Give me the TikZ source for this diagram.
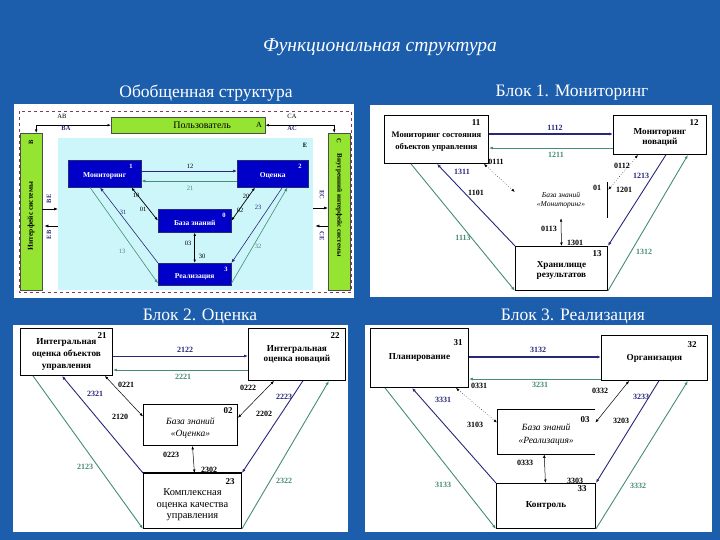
\documentclass[tikz,border=0pt]{standalone}
\usepackage{fontspec}
\setmainfont{Liberation Serif}
\usetikzlibrary{arrows.meta,calc}
\definecolor{bgblue}{RGB}{28,94,172}
\definecolor{navyc}{RGB}{40,40,120}
\definecolor{tealc}{RGB}{70,140,120}
\definecolor{limec}{RGB}{150,228,50}
\definecolor{cyanbg}{RGB}{205,246,250}
\definecolor{boxblue}{RGB}{0,0,200}
\definecolor{maroonc}{RGB}{130,60,90}
\tikzset{
  tip/.style={-{Latex[length=4pt,width=3pt]}},
  tips/.style={{Latex[length=3.5pt,width=2.6pt]}-{Latex[length=3.5pt,width=2.6pt]}},
  nv/.style={draw=navyc,line width=0.9pt,tip},
  tl/.style={draw=tealc,line width=0.9pt,tip},
  kbl/.style={draw=black,line width=0.5pt,tips},
  kbd/.style={draw=black,line width=0.5pt,dotted,tips},
  wbox/.style={draw=black,fill=white,line width=0.9pt,align=center,inner sep=0pt,
     font=\fontsize{9.2}{10.4}\selectfont\bfseries,anchor=north west},
  bbox/.style={draw=navyc,fill=boxblue,text=white,align=center,inner sep=0pt,
     font=\fontsize{7.5}{8.5}\selectfont\bfseries,anchor=north west},
  gbox/.style={draw=black!70,fill=limec,align=center,inner sep=0pt,
     font=\fontsize{10}{11}\selectfont,anchor=north west},
  num/.style={font=\fontsize{9}{10}\selectfont\bfseries,inner sep=0pt},
  wnum/.style={font=\fontsize{6.5}{7}\selectfont\bfseries,text=white,inner sep=0pt},
  lb/.style={font=\fontsize{8}{9}\selectfont\bfseries,inner sep=0.5pt},
  lbn/.style={lb,text=navyc},
  lbt/.style={lb,text=tealc},
  sl/.style={font=\fontsize{6.5}{7}\selectfont,inner sep=0.5pt},
  kbt/.style={align=center,font=\fontsize{7.5}{9}\selectfont\itshape,inner sep=0pt},
  subt/.style={text=white,font=\fontsize{17.5}{20}\selectfont}
}
\begin{document}
\begin{tikzpicture}[x=1pt,y=-1pt]
\useasboundingbox (0,0) rectangle (720,540);
\fill[bgblue] (0,0) rectangle (720,540);

\node[text=white,font=\fontsize{19.5}{22}\selectfont\itshape] (title) at (380,47) {Функциональная структура};
\node[subt] (s0) at (206,93) {Обобщенная структура};
\node[subt] (s1) at (572,93) {Блок 1. Мониторинг};
\node[subt] (s2) at (200,316) {Блок 2. Оценка};
\node[subt] (s3) at (573,316) {Блок 3. Реализация};

% ================= Panel 0: general structure
\fill[white] (14,104) rectangle (354,298);
\draw[maroonc,dashed,line width=0.7pt] (19,111) rectangle (351,292);
\node[fill=cyanbg,minimum width=255pt,minimum height=152pt,inner sep=0,anchor=north west] (E) at (58,138) {};
\node[sl] (Elab) at (305,145) {\bfseries E};
\node[gbox,minimum width=154pt,minimum height=16pt] (user) at (111,117) {\hspace*{28pt}Пользователь};
\node[sl,font=\fontsize{8}{9}\selectfont] (Alab) at (259,125) {A};
\node[gbox,minimum width=22pt,minimum height=157pt] (lbx) at (20,133) {};
\node[sl,rotate=90] (Blab) at (31,142) {\bfseries B};
\node[sl,rotate=90,font=\fontsize{7.5}{8}\selectfont\bfseries] (ltxt) at (31,216) {Интерфейс системы};
\node[gbox,minimum width=22pt,minimum height=157pt] (rbx) at (328,133) {};
\node[sl,rotate=-90] (Clab) at (339,141) {\bfseries C};
\node[sl,rotate=-90,font=\fontsize{7}{8}\selectfont\bfseries] (rtxt) at (339,205) {Внутренний интерфейс системы};

\draw[tips,line width=0.6pt] (user.west) -| ([xshift=5pt]lbx.north);
\draw[tips,line width=0.6pt] (user.east) -| ([xshift=-5pt]rbx.north);
\node[sl] (ab) at (62,116) {AB};
\node[sl,text=navyc] (ba) at (66,128) {\bfseries BA};
\node[sl] (ca) at (292,116) {CA};
\node[sl,text=navyc] (ac) at (292,128) {\bfseries AC};

\draw[tip,line width=0.6pt] (lbx.east |- 0,209) -- (E.west |- 0,209);
\draw[tip,line width=0.6pt] (E.west |- 0,226) -- ([xshift=2pt]lbx.east |- 0,226);
\node[sl,rotate=90,text=navyc] (be) at (49,199) {\bfseries BE};
\node[sl,rotate=90,text=navyc] (eb) at (49,235) {\bfseries EB};
\draw[tip,line width=0.6pt] (E.east |- 0,208) -- (rbx.west |- 0,208);
\draw[tip,line width=0.6pt] (rbx.west |- 0,226) -- ([xshift=2pt]E.east |- 0,226);
\node[sl,rotate=-90,text=navyc] (ec) at (322,195) {\bfseries EC};
\node[sl,rotate=-90,text=navyc] (ce) at (322,236) {\bfseries CE};

\node[bbox,minimum width=73pt,minimum height=27pt] (mon) at (68,160) {\\[1pt]Мониторинг};
\node[wnum] at (131,166) {1};
\node[bbox,minimum width=71pt,minimum height=27pt] (ots) at (237,160) {\\[1pt]Оценка};
\node[wnum] at (300,166) {2};
\node[bbox,minimum width=73pt,minimum height=23pt] (kb0) at (158,209) {\\[1pt]База знаний};
\node[wnum] at (224,215) {0};
\node[bbox,minimum width=73pt,minimum height=22pt] (real) at (158,263) {\\[1pt]Реализация};
\node[wnum] at (226,269) {3};

\draw[nv,line width=0.7pt] (mon.east |- 0,171) -- (ots.west |- 0,171);
\node[sl] at (190,166) {12};
\draw[tl,line width=0.7pt] (ots.west |- 0,181) -- (mon.east |- 0,181);
\node[sl,text=tealc] at (190,188) {21};
\draw[kbl,line width=0.7pt] ([xshift=-10pt]mon.south east) -- (kb0.west);
\node[sl] at (136,195) {10};
\node[sl] at (143,209) {01};
\draw[kbl,line width=0.7pt] ([xshift=18pt]ots.south west) -- (kb0.east);
\node[sl] at (246,196) {20};
\node[sl] at (240,210) {02};
\draw[kbl,line width=0.7pt] (kb0.south) -- (real.north);
\node[sl] at (188,243) {03};
\node[sl] at (202,256) {30};
\draw[nv,line width=0.6pt] (real.north west) -- ([xshift=32pt]mon.south west);
\node[sl,text=navyc] at (123,212) {31};
\draw[tl,line width=0.6pt] ([xshift=22pt]mon.south west) -- ([yshift=2pt]real.south west);
\node[sl,text=tealc] at (122,251) {13};
\draw[nv,line width=0.6pt] ([xshift=-26pt]ots.south east) -- (real.north east);
\node[sl,text=navyc] at (258,207) {23};
\draw[tl,line width=0.6pt] ([yshift=2pt]real.south east) -- ([xshift=-21pt]ots.south east);
\node[sl,text=tealc] at (258,246) {32};

% ================= Panel 1: monitoring
\fill[white] (370,105) rectangle (712,297);
\node[wbox,minimum width=104pt,minimum height=48pt,font=\fontsize{8.5}{11.5}\selectfont\bfseries] (b11) at (384,115) {\\[-2pt]Мониторинг состояния\\объектов управления};
\node[num] at (476,123) {11};
\node[wbox,minimum width=93pt,minimum height=39pt] (b12) at (613,115) {\\[0pt]Мониторинг\\новаций};
\node[num] at (694,123) {12};
\node[wbox,minimum width=92pt,minimum height=44pt] (b13) at (515,246) {\\[0pt]Хранилище\\результатов};
\node[num] at (597,254) {13};
\node[kbt,minimum width=92pt,minimum height=36pt] (kb1) at (561,200) {База знаний\\«Мониторинг»};
\draw[line width=0.6pt] (kb1.north east) -- (kb1.south east);
\node[lb] at (597,188) {01};

\draw[nv,line width=1.4pt] (b11.east |- 0,134) -- (b12.west |- 0,134);
\node[lbn] at (555,128) {1112};
\draw[tl] (b12.west |- 0,148) -- (b11.east |- 0,148);
\node[lbt] at (556,155) {1211};
\draw[kbd] ([xshift=-5pt]b11.south east) -- ($(kb1.north west)!0.28!(kb1.south west)$);
\node[lb] at (496,162) {0111};
\node[lb] at (476,193) {1101};
\draw[kbd] ([xshift=25pt]b12.south west) -- ([xshift=1pt,yshift=-8pt]kb1.north east);
\node[lb] at (622,166) {0112};
\node[lb] at (624,190) {1201};
\draw[kbl] (kb1.south) -- (b13.north);
\node[lb] at (549,229) {0113};
\node[lb] at (575,243) {1301};
\draw[nv] (b13.north west) -- ([xshift=53pt]b11.south west);
\node[lbn] at (462,172) {1311};
\draw[tl] ([xshift=27pt]b11.south west) -- (b13.south west);
\node[lbt] at (463,238) {1113};
\draw[nv] ([xshift=-41pt]b12.south east) -- (b13.north east);
\node[lbn] at (641,176) {1213};
\draw[tl] (b13.south east) -- ([xshift=-19pt]b12.south east);
\node[lbt] at (644,252) {1312};

% ================= Panel 2: evaluation
\fill[white] (13,325) rectangle (348,532);
\node[wbox,minimum width=92pt,minimum height=47pt,font=\fontsize{9.2}{12}\selectfont\bfseries] (b21) at (20,328) {\\[-1pt]Интегральная\\оценка объектов\\управления};
\node[num] at (102,336) {21};
\node[wbox,minimum width=97pt,minimum height=52pt] (b22) at (248,328) {Интегральная\\оценка новаций};
\node[num] at (335,336) {22};
\node[wbox,minimum width=94pt,minimum height=41pt,font=\fontsize{9.5}{12.5}\selectfont\itshape] (kb2) at (143,404) {\\[0pt]База знаний\\«Оценка»};
\node[num] at (228,411) {02};
\node[wbox,minimum width=98pt,minimum height=55pt,font=\fontsize{10.5}{11.5}\selectfont] (b23) at (143,473) {\\[3pt]Комплексная\\оценка качества\\управления};
\draw[line width=2pt] (b23.north west) -- (b23.north east);
\node[num] at (230,482) {23};

\draw[nv] (b21.east |- 0,356) -- (b22.west |- 0,356);
\node[lbn] at (185,350) {2122};
\draw[tl] (b22.west |- 0,370) -- (b21.east |- 0,370);
\node[lbt] at (183,377) {2221};
\draw[kbl] ([xshift=-8pt]b21.south east) -- ($(kb2.north west)!0.3!(kb2.south west)$);
\node[lb] at (126,385) {0221};
\node[lb] at (120,417) {2120};
\draw[kbl] ([xshift=26pt]b22.south west) -- ($(kb2.north east)!0.33!(kb2.south east)$);
\node[lb] at (248,388) {0222};
\node[lb] at (264,414) {2202};
\draw[kbl] ([xshift=2pt]kb2.south) -- ([xshift=2pt]b23.north);
\node[lb] at (171,455) {0223};
\node[lb] at (209,470) {2302};
\draw[nv] (b23.north west) -- ([xshift=42pt]b21.south west);
\node[lbn] at (95,394) {2321};
\draw[tl] ([xshift=13pt]b21.south west) -- (b23.south west);
\node[lbt] at (85,467) {2123};
\draw[nv] ([xshift=-43pt]b22.south east) -- (b23.north east);
\node[lbn] at (284,397) {2223};
\draw[tl] (b23.south east) -- ([xshift=-17pt]b22.south east);
\node[lbt] at (284,481) {2322};

% ================= Panel 3: realisation
\fill[white] (365,325) rectangle (712,532);
\node[wbox,minimum width=98pt,minimum height=59pt] (b31) at (370,328) {Планирование};
\node[num] at (458,343) {31};
\node[wbox,minimum width=106pt,minimum height=45pt] (b32) at (601,335) {Организация};
\node[num] at (692,345) {32};
\node[kbt,font=\fontsize{9.5}{12.5}\selectfont\itshape,minimum width=98pt,minimum height=45pt,anchor=north west] (kb3) at (497,409) {\\[0pt]База знаний\\«Реализация»};
\draw[line width=0.8pt] (kb3.north east) -- (kb3.north west) -- (kb3.south west) -- (kb3.south east);
\node[num] at (585,420) {03};
\node[wbox,minimum width=99pt,minimum height=45pt] (b33) at (496,483) {Контроль};
\node[num] at (582,489) {33};

\draw[nv,line width=1.2pt] (b31.east |- 0,357) -- (b32.west |- 0,357);
\node[lbn] at (538,350) {3132};
\draw[tl] (b32.west |- 0,379) -- (b31.east |- 0,379);
\node[lbt] at (540,385) {3231};
\draw[kbd] ([xshift=-13pt]b31.south east) -- ($(kb3.north west)!0.3!(kb3.south west)$);
\node[lb] at (479,386) {0331};
\node[lb] at (475,425) {3103};
\draw[kbl] ([xshift=28pt]b32.south west) -- ($(kb3.north east)!0.3!(kb3.south east)$);
\node[lb] at (600,391) {0332};
\node[lb] at (621,421) {3203};
\draw[kbl] ([xshift=-2pt]kb3.south) -- ([xshift=-0.5pt]b33.north);
\node[lb] at (525,463) {0333};
\node[lb] at (575,481) {3303};
\draw[nv] (b33.north west) -- ([xshift=42pt]b31.south west);
\node[lbn] at (443,400) {3331};
\draw[tl] ([xshift=15pt]b31.south west) -- (b33.south west);
\node[lbt] at (443,485) {3133};
\draw[nv] ([xshift=-49pt]b32.south east) -- (b33.north east);
\node[lbn] at (641,397) {3233};
\draw[tl] (b33.south east) -- ([xshift=-20pt]b32.south east);
\node[lbt] at (638,486) {3332};
\end{tikzpicture}
\end{document}
